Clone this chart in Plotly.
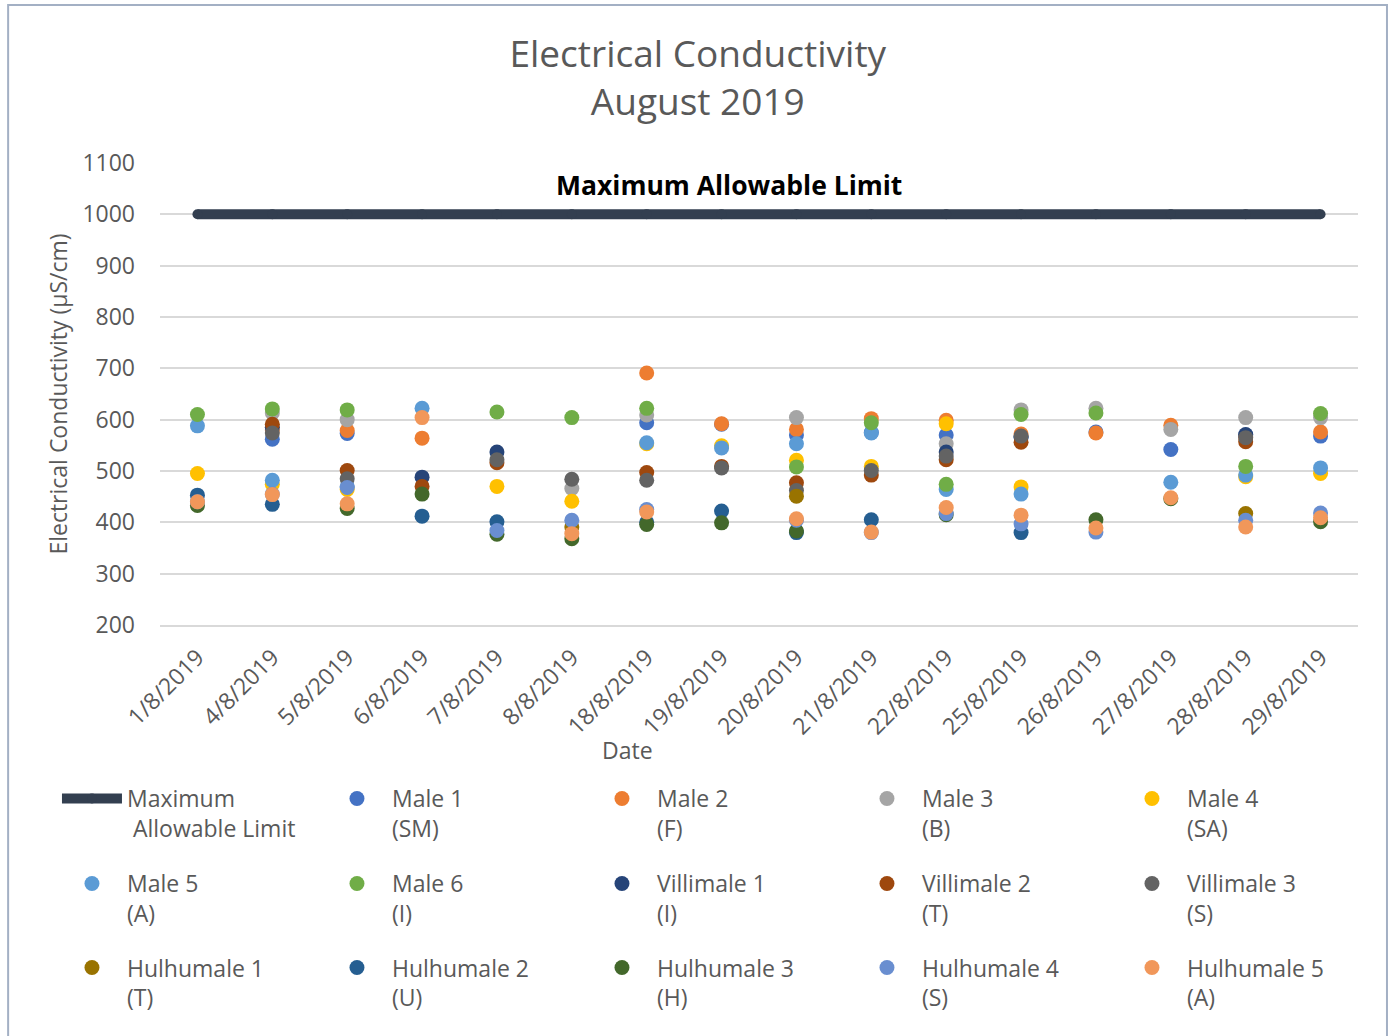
import plotly.graph_objects as go

dates = ["1/8/2019", "4/8/2019", "5/8/2019", "6/8/2019", "7/8/2019", "8/8/2019",
         "18/8/2019", "19/8/2019", "20/8/2019", "21/8/2019", "22/8/2019", "25/8/2019",
         "26/8/2019", "27/8/2019", "28/8/2019", "29/8/2019"]

max_limit = [1000] * 16

male1 = [None, 562, 573, None, None, None, 594, 591, 570, 575, 570, 566, 576, 542, 570, 568]
male2 = [None, 580, 579, 564, None, None, 691, 592, 581, 602, 599, 572, 574, 589, 566, 576]
male3 = [None, 613, 600, None, None, 466, 609, None, 604, None, 553, 619, 622, 581, 604, 604]
male4 = [495, 474, 464, None, 470, 441, 553, 549, 521, 509, 592, 469, None, None, 489, 495]
male5 = [588, 482, 470, 622, None, None, 555, 545, 553, 574, 464, 455, None, 478, 492, 506]
male6 = [610, 621, 619, None, 615, 604, 622, None, 508, 594, 474, 610, 613, None, 509, 612]
villimale1 = [None, 585, None, 488, 537, None, None, None, None, None, 537, 566, None, None, 571, None]
villimale2 = [None, 591, 501, 470, 516, None, 497, 509, 477, 492, 522, 556, None, None, 557, None]
villimale3 = [None, 574, 485, None, 522, 484, 482, 506, 462, 501, 529, 568, None, None, 565, None]
hulhumale1 = [None, None, None, None, None, 391, None, None, 451, None, None, None, None, None, 417, None]
hulhumale2 = [453, 435, None, 412, 401, None, 400, 422, 380, 405, None, 380, None, None, None, None]
hulhumale3 = [433, None, 427, 455, 377, 368, 396, 399, 383, None, 415, None, 405, 446, None, 401]
hulhumale4 = [440, 455, 468, None, 384, 404, 425, None, 404, 380, 417, 397, 381, None, 404, 418]
hulhumale5 = [440, 454, 436, 604, None, 378, 420, None, 407, 381, 429, 414, 389, 448, 391, 409]

series = [
    ("Male 1<br>(SM)", male1, "#4472C4", "legend"),
    ("Male 2<br>(F)", male2, "#ED7D31", "legend"),
    ("Male 3<br>(B)", male3, "#A5A5A5", "legend"),
    ("Male 4<br>(SA)", male4, "#FFC000", "legend"),
    ("Male 5<br>(A)", male5, "#5B9BD5", "legend2"),
    ("Male 6<br>(I)", male6, "#70AD47", "legend2"),
    ("Villimale 1<br>(I)", villimale1, "#264478", "legend2"),
    ("Villimale 2<br>(T)", villimale2, "#9E480E", "legend2"),
    ("Villimale 3<br>(S)", villimale3, "#636363", "legend2"),
    ("Hulhumale 1<br>(T)", hulhumale1, "#997300", "legend3"),
    ("Hulhumale 2<br>(U)", hulhumale2, "#255E91", "legend3"),
    ("Hulhumale 3<br>(H)", hulhumale3, "#43682B", "legend3"),
    ("Hulhumale 4<br>(S)", hulhumale4, "#698ED0", "legend3"),
    ("Hulhumale 5<br>(A)", hulhumale5, "#F1975A", "legend3"),
]

FONT = "Open Sans"
TXT = "#595959"
LIMIT_COLOR = "#333F50"

fig = go.Figure()
fig.add_trace(go.Scatter(
    x=dates, y=max_limit, name="Maximum<br>&nbsp;Allowable Limit",
    mode="lines+markers", line=dict(color=LIMIT_COLOR, width=10),
    marker=dict(color=LIMIT_COLOR, size=10), legend="legend"))

for name, vals, color, lg in series:
    fig.add_trace(go.Scatter(
        x=dates, y=vals, name=name, mode="markers",
        marker=dict(color=color, size=15, line=dict(width=0)), legend=lg))

legend_common = dict(
    orientation="h", xanchor="left", yanchor="top",
    font=dict(family=FONT, size=23, color=TXT),
    itemwidth=60, entrywidth=190, entrywidthmode="pixels",
    valign="top", bgcolor="rgba(0,0,0,0)", traceorder="normal",
)

fig.update_layout(
    width=1390, height=1036,
    margin=dict(l=160, r=32, t=163, b=411),
    paper_bgcolor="white", plot_bgcolor="white",
    font=dict(family=FONT, color=TXT, size=23),
    title=dict(text="Electrical Conductivity<br>August 2019",
               x=0.502, xanchor="center", y=1 - 67.2 / 1036, yanchor="middle",
               yref="container",
               font=dict(family=FONT, size=37, color=TXT)),
    xaxis=dict(type="category", range=[-0.5, 15.5], showgrid=False,
               showline=True, linecolor="#D9D9D9", linewidth=1.5,
               ticks="", tickangle=-45, ticklabelstandoff=8,
               tickfont=dict(family=FONT, size=23, color=TXT)),
    yaxis=dict(range=[200, 1100], dtick=100, tick0=200,
               showgrid=True, gridcolor="#D9D9D9", gridwidth=1.5,
               zeroline=False, showline=False, ticks="",
               ticklabelstandoff=24,
               tickfont=dict(family=FONT, size=23, color=TXT),
               title=dict(text="Electrical Conductivity (µS/cm)",
                          font=dict(family=FONT, size=23, color=TXT),
                          standoff=8)),
    legend=dict(x=-0.086, y=-0.329, **legend_common),
    legend2=dict(x=-0.086, y=-0.513, **legend_common),
    legend3=dict(x=-0.086, y=-0.695, **legend_common),
    showlegend=True,
)

fig.add_annotation(text="<b>Maximum Allowable Limit</b>", xref="paper", yref="y",
                   x=0.4746, y=1057, showarrow=False,
                   font=dict(family=FONT, size=26.5, color="#000000"))
fig.add_annotation(text="Date", xref="paper", yref="paper",
                   x=0.3903, y=-0.2706, showarrow=False, yanchor="middle",
                   font=dict(family=FONT, size=23, color=TXT))

fig.add_shape(type="rect", xref="paper", yref="paper",
              x0=(8 - 160) / 1199, x1=(1388 - 160) / 1199,
              y0=-0.95, y1=(625 - 5) / 462,
              line=dict(color="#A3B0C4", width=2), fillcolor="rgba(0,0,0,0)",
              layer="below")

fig.write_html(
    "out.html",
    config={"displayModeBar": False},
    post_script="document.body.style.margin='0';document.body.style.overflow='hidden';",
)
